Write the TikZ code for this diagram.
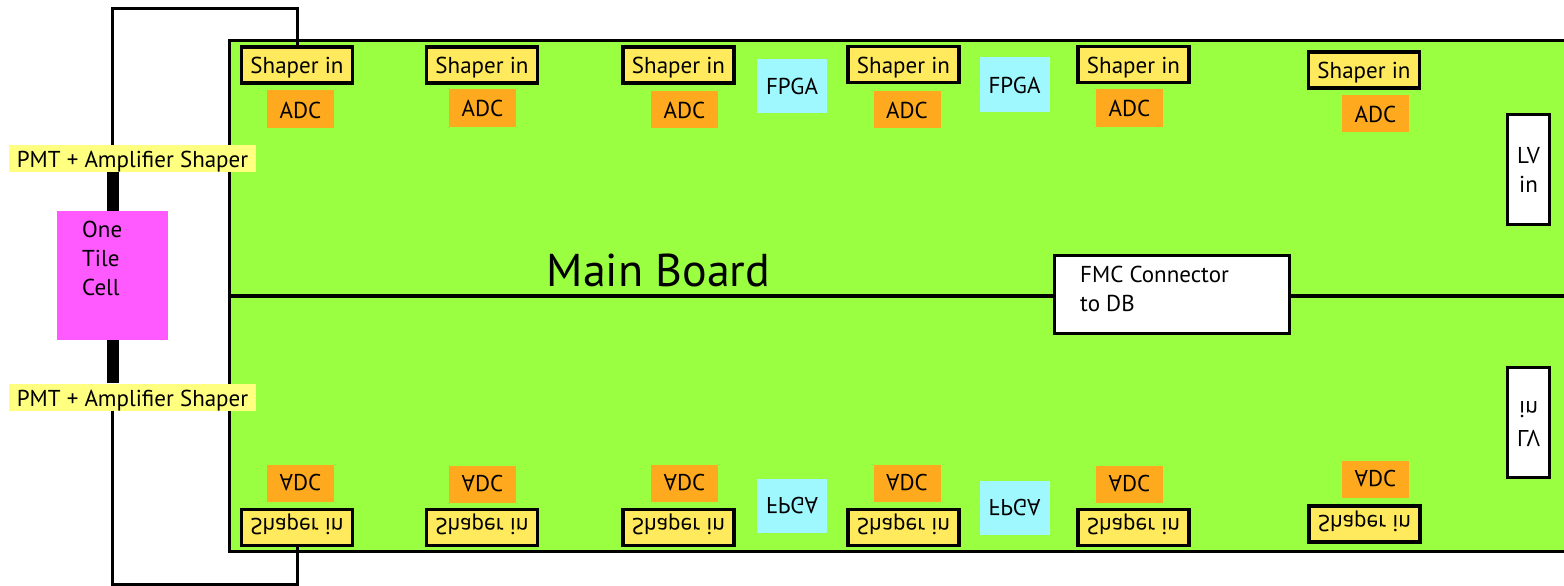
\documentclass[tikz,border=0pt]{standalone}
\usepackage{fontspec}
\setmainfont{PT Sans}
\usepackage{graphicx}
\definecolor{boardgreen}{RGB}{153,255,64}
\definecolor{shaperyellow}{RGB}{255,234,94}
\definecolor{adcorange}{RGB}{255,170,30}
\definecolor{fpgacyan}{RGB}{160,248,255}
\definecolor{pmtyellow}{RGB}{255,255,128}
\definecolor{cellpink}{RGB}{255,90,255}
\newcommand\upside[1]{\scalebox{1}[-1]{#1}}
\begin{document}
\begin{tikzpicture}[x=1pt,y=-1pt,
 every node/.style={inner sep=0pt, font=\fontsize{23}{29}\selectfont},
 label1/.style={text height=18pt, text depth=0pt},
 mirrortext/.style={text height=0pt, text depth=18pt},
 board/.style={fill=boardgreen, draw=black, line width=3pt},
 shaperbox/.style={label1, fill=shaperyellow, draw=black, line width=3.5pt, minimum width=111pt, minimum height=36pt},
 adcbox/.style={label1, fill=adcorange, minimum width=67pt, minimum height=37pt},
 fpgabox/.style={label1, fill=fpgacyan, minimum width=70pt, minimum height=54pt},
 pmtbox/.style={label1, fill=pmtyellow, minimum width=247pt, minimum height=27pt},
 whitebox/.style={fill=white, draw=black, line width=3pt},
 wire/.style={line width=3pt},
 fatwire/.style={line width=12pt},
]
\useasboundingbox (0,0) rectangle (1564,586);
\clip (0,0) rectangle (1564,586);
\fill[white] (0,0) rectangle (1564,586);

% main board
\node[board, minimum width=1342pt, minimum height=511pt] (board) at (900.5,296) {};
\node[whitebox, minimum width=235pt, minimum height=78pt] (fmc) at (1172,294.5) {};
\draw[line width=4pt] (board.west) -- (board.west -| fmc.west);
\draw[line width=4pt] (board.east -| fmc.east) -- (board.east);
\node[anchor=north west, align=left] (fmctext) at (1080,266) {FMC Connector\\to DB};
\node[font=\fontsize{46}{50}\selectfont, anchor=base] (mainlabel) at (658.5,286) {Main Board};

% LV in
\node[whitebox, minimum width=42pt, minimum height=110pt, align=center] (lvtop) at (1528.5,169.5) {LV\\in};
\node[whitebox, minimum width=42pt, minimum height=110pt] (lvbot) at (1528.5,422) {\upside{\begin{tabular}{@{}c@{}}LV\\in\end{tabular}}};

% top row
\node[shaperbox] (sh1) at (297,65) {Shaper in};
\node[shaperbox] (sh2) at (482,65) {Shaper in};
\node[shaperbox] (sh3) at (678.5,65) {Shaper in};
\node[shaperbox] (sh4) at (903.5,64.5) {Shaper in};
\node[shaperbox] (sh5) at (1133.5,64.5) {Shaper in};
\node[shaperbox] (sh6) at (1364,70) {Shaper in};
\node[adcbox] (a1) at (300.5,109) {ADC};
\node[adcbox] (a2) at (482.5,108) {ADC};
\node[adcbox] (a3) at (684.5,109.5) {ADC};
\node[adcbox] (a4) at (907,109.5) {ADC};
\node[adcbox] (a5) at (1129.5,108) {ADC};
\node[adcbox] (a6) at (1375.5,113.5) {ADC};
\node[fpgabox] (f1) at (792,86) {FPGA};
\node[fpgabox] (f2) at (1014.5,84.5) {FPGA};

% bottom row (mirrored)
\node[shaperbox, mirrortext] (bsh1) at (297,527.5) {\upside{Shaper in}};
\node[shaperbox, mirrortext] (bsh2) at (482,527.5) {\upside{Shaper in}};
\node[shaperbox, mirrortext] (bsh3) at (678.5,527.5) {\upside{Shaper in}};
\node[shaperbox, mirrortext] (bsh4) at (903.5,527.5) {\upside{Shaper in}};
\node[shaperbox, mirrortext] (bsh5) at (1133.5,527.5) {\upside{Shaper in}};
\node[shaperbox, mirrortext] (bsh6) at (1364.5,524) {\upside{Shaper in}};
\node[adcbox, mirrortext] (b1) at (300.5,483) {\upside{ADC}};
\node[adcbox, mirrortext] (b2) at (482.5,484.5) {\upside{ADC}};
\node[adcbox, mirrortext] (b3) at (684.5,483.5) {\upside{ADC}};
\node[adcbox, mirrortext] (b4) at (907,483.5) {\upside{ADC}};
\node[adcbox, mirrortext] (b5) at (1129.5,484.5) {\upside{ADC}};
\node[adcbox, mirrortext] (b6) at (1375.5,479.5) {\upside{ADC}};
\node[fpgabox, mirrortext] (f3) at (792,506) {\upside{FPGA}};
\node[fpgabox, mirrortext] (f4) at (1014.5,508) {\upside{FPGA}};

% tile cell and PMT
\node[fill=cellpink, minimum width=111pt, minimum height=129pt] (cell) at (112.5,275.5) {};
\node[anchor=north west, align=left] (celltext) at (82,221) {One\\Tile\\Cell};
\node[pmtbox] (pmt1) at (132.5,158.5) {PMT + Amplifier Shaper};
\node[pmtbox] (pmt2) at (132.5,397) {PMT + Amplifier Shaper};

\coordinate (wtop) at (205,9);
\coordinate (wbot) at (205,584);
\draw[wire] (pmt1.north -| cell.center) |- (wtop) -| (sh1.north);
\draw[fatwire] (cell.north) -- (cell.north |- pmt1.south);
\draw[fatwire] (cell.south) -- (cell.south |- pmt2.north);
\draw[wire] (pmt2.south -| cell.center) |- (wbot) -| (bsh1.south);
\end{tikzpicture}
\end{document}
